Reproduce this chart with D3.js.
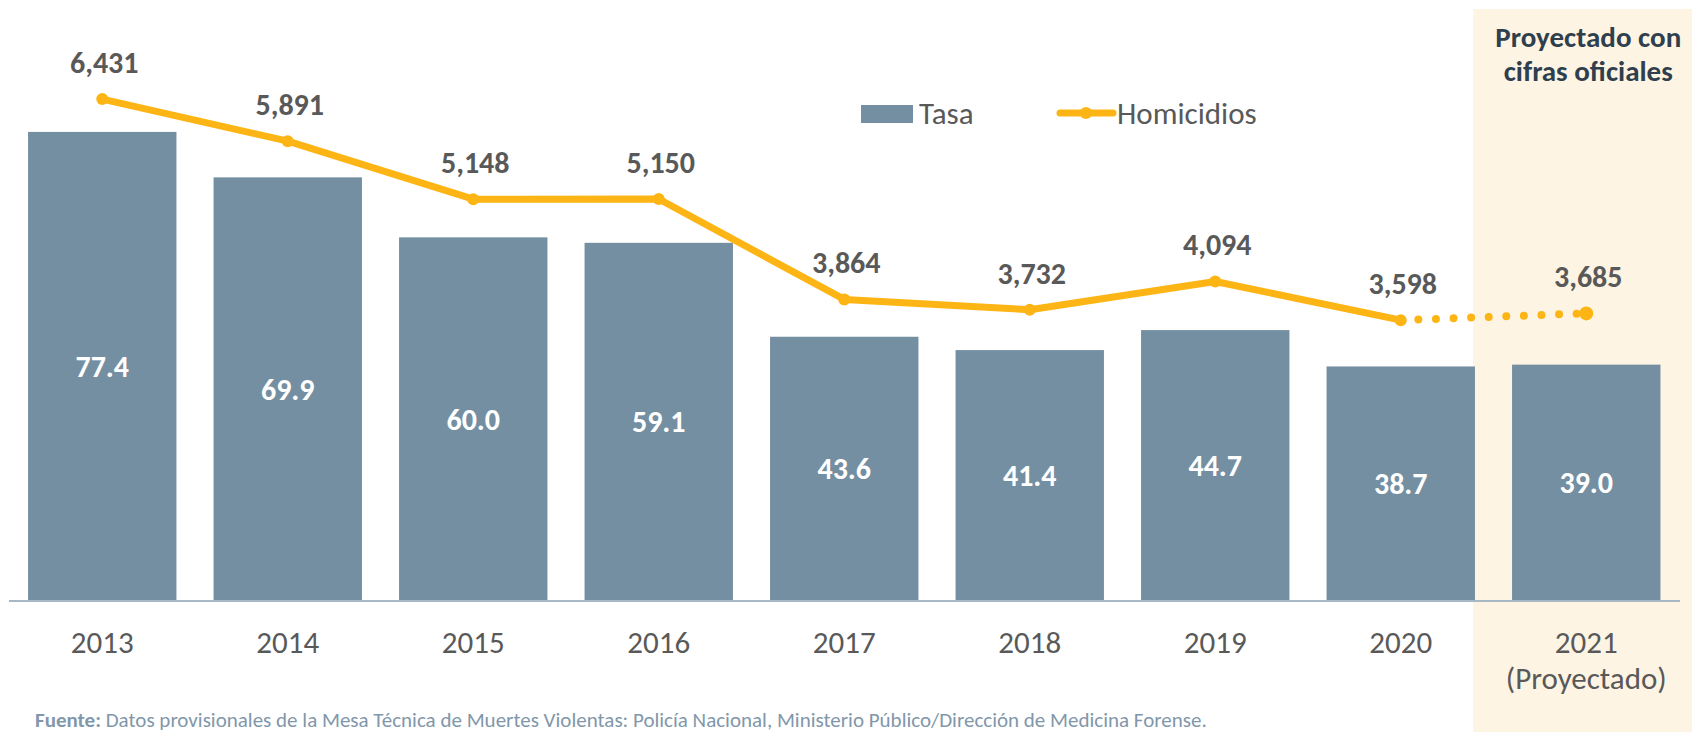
<!DOCTYPE html>
<html>
<head>
<meta charset="utf-8">
<script src="https://cdn.jsdelivr.net/npm/d3@7"></script>
<style>
  body { margin: 0; background: #fff; }
  svg { display: block; font-family: Carlito, Lato, "Open Sans", sans-serif; }
</style>
</head>
<body>
<svg id="chart" width="1692" height="732"></svg>
<script>
// data
const years = ['2013', '2014', '2015', '2016', '2017', '2018', '2019', '2020', '2021'];
const tasa = [77.4, 69.9, 60.0, 59.1, 43.6, 41.4, 44.7, 38.7, 39.0];
const homicidios = [6431, 5891, 5148, 5150, 3864, 3732, 4094, 3598, 3685];
const projectedYear = '2021';

const svg = d3.select('#chart');
const W = 1692, H = 732, baseY = 601;

const x = d3.scaleBand().domain(years).range([9.5, 1679]).paddingInner(0.2).paddingOuter(0.1);
const yBar = d3.scaleLinear().domain([0, 99]).range([baseY, 1]);
const yLine = d3.scaleLinear().domain([0, 7700]).range([baseY, 0]);
const mid = d => x(d) + x.bandwidth() / 2;

// projected highlight band
const bandX = x(projectedYear) - x.step() * 0.21;
svg.append('rect')
  .attr('x', bandX).attr('y', 9)
  .attr('width', W - bandX).attr('height', H - 9)
  .attr('fill', '#FEF4E3');

svg.append('text')
  .attr('text-anchor', 'middle')
  .attr('font-weight', 'bold').attr('font-size', 29).attr('fill', '#2F3F4E')
  .selectAll('tspan').data(['Proyectado con', 'cifras oficiales']).join('tspan')
  .attr('x', mid(projectedYear) + 2)
  .attr('y', (d, i) => 47 + i * 34)
  .text(d => d);

// bars
svg.selectAll('.bar').data(years).join('rect')
  .attr('class', 'bar')
  .attr('x', d => x(d))
  .attr('y', (d, i) => yBar(tasa[i]))
  .attr('width', x.bandwidth())
  .attr('height', (d, i) => baseY - yBar(tasa[i]))
  .attr('fill', '#758FA2');

svg.selectAll('.bar-label').data(years).join('text')
  .attr('class', 'bar-label')
  .attr('x', d => mid(d))
  .attr('y', (d, i) => (yBar(tasa[i]) + baseY) / 2)
  .attr('dy', '0.35em')
  .attr('text-anchor', 'middle')
  .attr('font-weight', 'bold').attr('font-size', 30).attr('fill', '#fff')
  .text((d, i) => tasa[i].toFixed(1));

// x axis
svg.append('line')
  .attr('x1', 9).attr('x2', 1680).attr('y1', baseY).attr('y2', baseY)
  .attr('stroke', '#A8B7C4').attr('stroke-width', 2);

svg.selectAll('.x-label').data(years).join('text')
  .attr('class', 'x-label')
  .attr('x', d => mid(d))
  .attr('y', 653)
  .attr('text-anchor', 'middle')
  .attr('font-size', 31).attr('fill', '#595959')
  .text(d => d);

svg.append('text')
  .attr('x', mid(projectedYear))
  .attr('y', 689)
  .attr('text-anchor', 'middle')
  .attr('font-size', 31).attr('fill', '#595959')
  .text('(Proyectado)');

// homicidios line
const pts = years.map((d, i) => [mid(d), yLine(homicidios[i])]);
const line = d3.line();
const nProj = years.indexOf(projectedYear);
const lineColor = '#FDB515';

svg.append('path')
  .attr('d', line(pts.slice(0, nProj)))
  .attr('fill', 'none').attr('stroke', lineColor)
  .attr('stroke-width', 7).attr('stroke-linejoin', 'round').attr('stroke-linecap', 'round');

svg.append('path')
  .attr('d', line(pts.slice(nProj - 1)))
  .attr('fill', 'none').attr('stroke', lineColor)
  .attr('stroke-width', 8).attr('stroke-linecap', 'round')
  .attr('stroke-dasharray', '0 17.6');

svg.selectAll('.pt').data(pts).join('circle')
  .attr('class', 'pt')
  .attr('cx', d => d[0]).attr('cy', d => d[1])
  .attr('r', (d, i) => i === nProj ? 7 : 6)
  .attr('fill', lineColor);

svg.selectAll('.pt-label').data(pts).join('text')
  .attr('class', 'pt-label')
  .attr('x', d => d[0] + 2)
  .attr('y', d => d[1] - 26)
  .attr('text-anchor', 'middle')
  .attr('font-weight', 'bold').attr('font-size', 30).attr('fill', '#595959')
  .text((d, i) => d3.format(',')(homicidios[i]));

// legend
const lg = svg.append('g').attr('font-size', 31).attr('fill', '#595959');
lg.append('rect').attr('x', 861).attr('y', 105).attr('width', 52).attr('height', 18).attr('fill', '#758FA2');
lg.append('text').attr('x', 919).attr('y', 124).text('Tasa');
lg.append('line').attr('x1', 1060).attr('x2', 1113).attr('y1', 113).attr('y2', 113)
  .attr('stroke', lineColor).attr('stroke-width', 7).attr('stroke-linecap', 'round');
lg.append('circle').attr('cx', 1086).attr('cy', 113).attr('r', 6).attr('fill', lineColor);
lg.append('text').attr('x', 1117).attr('y', 124).text('Homicidios');

// source note
const src = svg.append('text').attr('x', 35).attr('y', 727).attr('font-size', 21).attr('fill', '#8197AA');
src.append('tspan').attr('font-weight', 'bold').text('Fuente:');
src.append('tspan').text(' Datos provisionales de la Mesa Técnica de Muertes Violentas: Policía Nacional, Ministerio Público/Dirección de Medicina Forense.');
</script>
</body>
</html>
